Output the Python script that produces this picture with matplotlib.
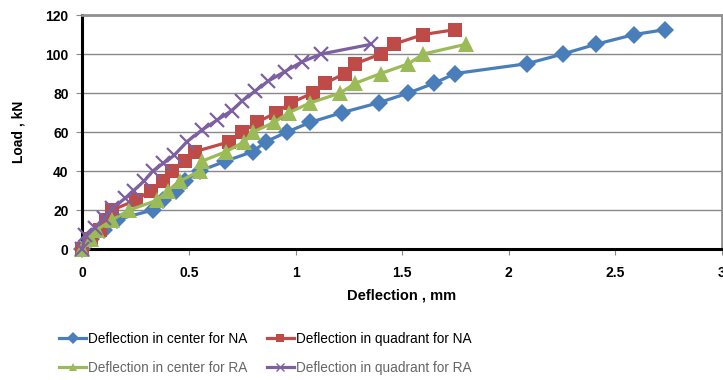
#!/usr/bin/env python3
'''Load-deflection curves for NA and RA slabs'''
import matplotlib.pyplot as plt
from matplotlib.lines import Line2D

plt.rcParams['font.family'] = ['Liberation Sans', 'DejaVu Sans']

# deflection (mm)
center_na_x = [0, 0.04, 0.10, 0.16, 0.33, 0.38, 0.44, 0.48, 0.55, 0.67, 0.80, 0.86,
               0.96, 1.07, 1.22, 1.39, 1.53, 1.65, 1.75, 2.085, 2.255, 2.41, 2.59, 2.735]
center_na_y = [0, 5, 10, 15, 20, 25, 30, 35, 40, 45, 50, 55,
               60, 65, 70, 75, 80, 85, 90, 95, 100, 105, 110, 112.5]

quad_na_x = [0, 0.04, 0.08, 0.11, 0.14, 0.25, 0.32, 0.38, 0.42, 0.48, 0.53, 0.69,
             0.75, 0.82, 0.91, 0.98, 1.08, 1.14, 1.23, 1.28, 1.40, 1.46, 1.60, 1.75]
quad_na_y = [0, 5, 10, 15, 20, 25, 30, 35, 40, 45, 50, 55,
             60, 65, 70, 75, 80, 85, 90, 95, 100, 105, 110, 112.5]

center_ra_x = [0, 0.04, 0.07, 0.14, 0.22, 0.35, 0.40, 0.46, 0.55, 0.56, 0.675, 0.76,
               0.80, 0.90, 0.97, 1.07, 1.21, 1.28, 1.40, 1.53, 1.60, 1.80]
center_ra_y = [0, 5, 10, 15, 20, 25, 30, 35, 40, 45, 50, 55,
               60, 65, 70, 75, 80, 85, 90, 95, 100, 105]

quad_ra_x = [0, 0.01, 0.06, 0.10, 0.14, 0.20, 0.24, 0.29, 0.33, 0.38, 0.43, 0.49,
             0.56, 0.63, 0.70, 0.75, 0.81, 0.87, 0.95, 1.03, 1.12, 1.355]
quad_ra_y = [0, 7, 11, 16, 21, 26, 30, 35, 40, 44, 48, 55,
             61, 66, 71, 76, 81, 86, 91, 96, 100, 105]

labels = ['Deflection in center for NA', 'Deflection in quadrant for NA',
          'Deflection in center for RA', 'Deflection in quadrant for RA']

fig = plt.figure(figsize=(7.23, 3.8), dpi=100)
ax = fig.add_axes([0.1141, 0.3447, 0.884, 0.6158])

series = [
    (center_na_x, center_na_y, '#4A7EBB', 'D', 9, labels[0]),
    (quad_na_x, quad_na_y, '#BE4B48', 's', 10, labels[1]),
    (center_ra_x, center_ra_y, '#9BBB59', '^', 12, labels[2]),
    (quad_ra_x, quad_ra_y, '#7D60A0', 'x', 10, labels[3]),
]
handles = []
for xs, ys, col, mk, ms, lab in series:
    ax.plot(xs, ys, color=col, lw=2.3, marker=mk, ms=ms, mew=1.6 if mk == 'x' else 0,
            mfc=col, mec=col, clip_on=False, zorder=3)
    handles.append(Line2D([], [], color=col, lw=2.3, marker=mk, ms=6, mew=1 if mk == 'x' else 0,
                          mfc=col, mec=col, label=lab))

ax.set_xlim(0, 3)
ax.set_ylim(0, 120)
ax.set_xticks([0, 0.5, 1, 1.5, 2, 2.5, 3])
ax.set_xticklabels(['0', '0.5', '1', '1.5', '2', '2.5', '3'])
ax.set_yticks(range(0, 121, 20))
ax.yaxis.grid(True, color='#888888', lw=1)
ax.set_axisbelow(True)
ax.tick_params(axis='x', length=4, color='#888888', labelsize=10, pad=8)
ax.tick_params(axis='y', length=4, color='#888888', labelsize=10, pad=6)
for lbl in ax.get_xticklabels() + ax.get_yticklabels():
    lbl.set_fontweight('bold')
for side in ['left', 'bottom']:
    ax.spines[side].set_linewidth(2.2)
    ax.spines[side].set_color('black')
for side in ['top', 'right']:
    ax.spines[side].set_linewidth(2)
    ax.spines[side].set_color('#909090')

ax.set_xlabel('Deflection , mm', fontsize=10.5, fontweight='bold', labelpad=6)
ax.set_ylabel('Load , kN', fontsize=10, fontweight='bold', labelpad=14)

# legend laid out row-wise like the original
order = [handles[0], handles[2], handles[1], handles[3]]
leg = fig.legend(handles=order, ncol=2, loc='center', bbox_to_anchor=(0.367, 0.07),
                 frameon=False, fontsize=9.8, handlelength=2.0, handletextpad=0.15,
                 columnspacing=1.4, labelspacing=1.15)
# bottom row looks faded in the original
for i in (1, 3):
    leg.get_texts()[i].set_color('#666666')

fig.savefig('out.png', dpi=100)
